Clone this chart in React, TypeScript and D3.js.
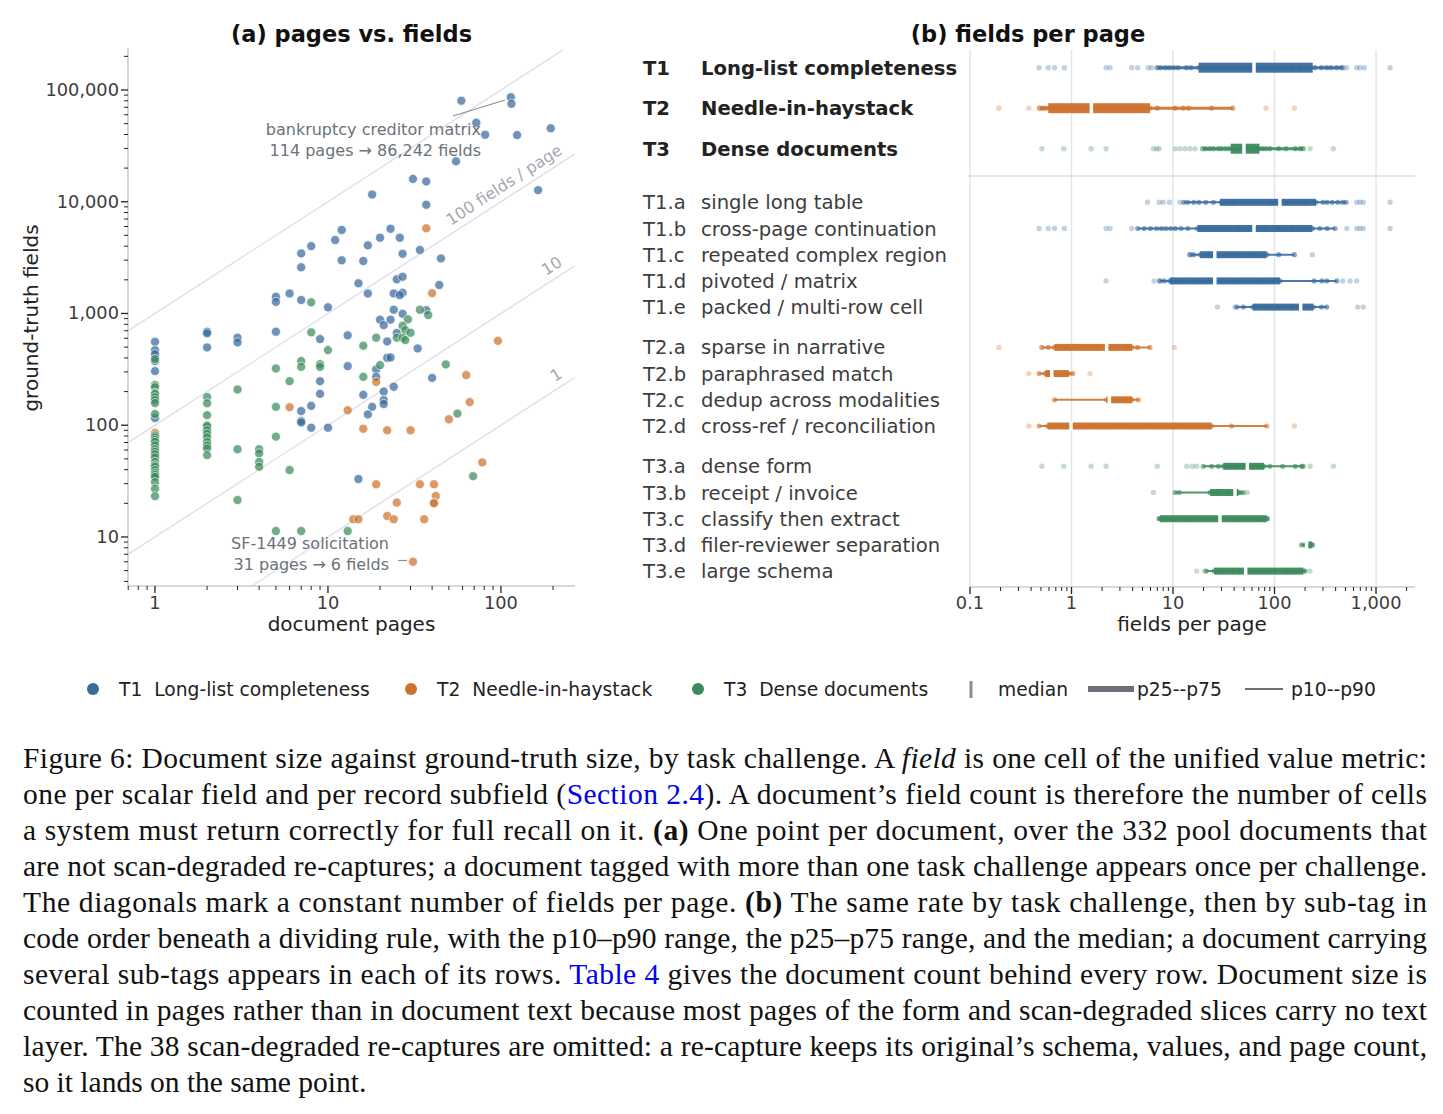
import React from 'react';
import * as d3 from 'd3';

// ---------- data: panel (a) [pages, fields] ----------
const t1Points: [number, number][] = [
  [59, 80200], [114, 86242], [115, 75300], [72, 50900], [81, 39800], [124, 39500], [194, 45400],
  [55, 23000], [31, 16000], [37, 15200], [18, 11600], [164, 12700], [37, 9400], [12, 5590],
  [23, 5730], [20, 4760], [26, 4760], [11, 4540],
  [7, 3450], [8, 4010], [17, 4070], [7, 2590], [12, 2990], [16, 2950], [27, 3420], [34, 3700],
  [45, 3110], [15, 1860], [25, 2020], [27, 2130], [17, 1510], [24, 1510], [27, 1530], [26, 1460],
  [44, 1800], [5, 1410], [5, 1270], [6, 1510], [7, 1320], [10, 1135], [24, 1080], [27, 993],
  [37, 1070], [20, 880], [23, 880], [21, 787], [25, 668], [5, 687], [9, 590], [13, 637], [22, 562],
  [33, 487], [13, 338], [22, 401], [23, 404], [19, 316], [19, 271], [40, 265], [9, 248], [24, 221],
  [21, 200], [9, 191], [16, 187], [21, 168], [21, 155], [18, 146], [8, 149], [7, 134], [17, 125],
  [7, 109], [7, 106], [8, 95], [10, 95], [15, 33],
  [1, 558], [1, 470], [1, 433], [1, 375], [1, 305], [1, 116],
  [2, 687], [2, 664], [2, 497], [3, 607], [3, 551],
];
const t2Points: [number, number][] = [
  [37, 5780], [40, 1520], [96, 569], [63, 281], [19, 244], [66, 161], [6, 145], [13, 136],
  [50, 113], [16, 93], [22, 90], [30, 90], [1, 85.5], [78, 46.5], [19, 29.6], [34, 29.6],
  [41, 29.6], [42, 23.3], [25, 20.3], [41, 20.3], [41, 20], [14, 14.4], [15, 14.4], [22, 15.4],
  [24, 14.4], [36, 14.4], [31, 6],
];
const t3Points: [number, number][] = [
  [8, 1260], [34, 1080], [38, 968], [29, 886], [27, 776], [28, 710], [30, 672], [25, 607],
  [27, 607], [28, 578], [8, 678], [19, 607], [16, 514], [10, 470], [7, 375], [7, 333], [9, 352],
  [9, 333], [5, 322], [20, 345], [16, 271], [48, 350], [6, 248], [5, 146], [56, 127], [4, 61],
  [4, 56], [4, 47], [4, 42.5], [5, 79], [6, 39.7], [3, 209], [3, 61], [3, 21.4], [5, 11.3],
  [7, 11.3], [13, 11.3], [69, 35],
  [1, 391], [1, 229], [1, 219], [1, 195], [1, 190], [1, 178], [1, 168], [1, 158], [1, 126],
  [1, 81], [1, 78], [1, 74], [1, 71], [1, 66], [1, 61], [1, 58], [1, 55], [1, 51.5], [1, 47],
  [1, 44], [1, 42.5], [1, 39.7], [1, 37.5], [1, 36], [1, 34.5], [1, 31], [1, 27], [1, 23.2],
  [2, 179], [2, 157], [2, 123], [2, 100], [2, 98], [2, 90], [2, 84], [2, 78], [2, 71], [2, 66],
  [2, 62], [2, 54],
];

const diagonalRates = [1000, 100, 10, 1];
const diagonalLabels = ['', '100 fields / page', '10', '1'];

// ---------- data: panel (b) ----------
const rowCodes = ['T1', 'T2', 'T3', 'T1.a', 'T1.b', 'T1.c', 'T1.d', 'T1.e', 'T2.a', 'T2.b', 'T2.c', 'T2.d', 'T3.a', 'T3.b', 'T3.c', 'T3.d', 'T3.e'];
const rowNames = [
  'Long-list completeness', 'Needle-in-haystack', 'Dense documents',
  'single long table', 'cross-page continuation', 'repeated complex region', 'pivoted / matrix', 'packed / multi-row cell',
  'sparse in narrative', 'paraphrased match', 'dedup across modalities', 'cross-ref / reconciliation',
  'dense form', 'receipt / invoice', 'classify then extract', 'filer-reviewer separation', 'large schema',
];
const rowSeries = [0, 1, 2, 0, 0, 0, 0, 0, 1, 1, 1, 1, 2, 2, 2, 2, 2];
// [p10, p25, median, p75, p90]
const rowStats: number[][] = [
  [7.0, 17.9, 62.8, 238, 470],
  [0.49, 0.59, 1.57, 5.93, 38.7],
  [19.6, 37, 50, 71, 192],
  [12.8, 29, 113, 256, 506],
  [4.49, 17.4, 62.8, 236, 394],
  [14.8, 18.5, 25.8, 83.7, 157],
  [7.45, 9.3, 25.8, 113, 410],
  [42.4, 61, 181, 241, 327],
  [0.51, 0.68, 2.22, 3.95, 5.93],
  [0.48, 0.55, 0.64, 0.94, 1.03],
  [0.68, 2.22, 2.36, 3.95, 4.55],
  [0.48, 0.58, 0.99, 24, 83.7],
  [19.9, 31.3, 54, 78.9, 192],
  [10.5, 23.2, 40.8, 44, 49.3],
  [7.3, 7.45, 29, 83.7, 85],
  [185, 200, 207, 233, 236],
  [21.3, 25.4, 52, 192, 200],
];
const rowDots: number[][] = [
  [0.48, 0.59, 0.68, 0.85, 2.19, 2.4, 3.92, 4.49, 5.71, 6.17, 7.0, 7.6, 8.4, 9.2, 10.1, 11.2, 13.5, 15, 18, 22, 26, 30, 38, 45, 55, 70, 85, 100, 120, 150, 180, 210, 250, 290, 327, 360, 410, 459, 477, 515, 645, 695, 767, 1374],
  [0.193, 0.38, 0.48, 0.49, 0.52, 0.55, 0.6, 0.65, 0.7, 0.8, 0.9, 1.0, 1.2, 1.4, 1.6, 1.8, 2.0, 2.4, 2.8, 3.2, 3.8, 4.5, 5.2, 5.9, 7, 10.5, 12.6, 14.2, 24, 38.7, 82.4, 157],
  [0.51, 0.84, 1.56, 2.19, 6.4, 6.9, 7.3, 10.5, 11.7, 13.1, 14.7, 16.5, 19.6, 21, 23, 25, 28, 30, 33, 36, 40, 44, 48, 52, 56, 60, 64, 70, 76, 82, 90, 110, 130, 160, 180, 192, 224, 380],
  [5.6, 7.3, 8.0, 9.2, 11.7, 12.8, 14, 16, 18, 21, 25, 30, 40, 55, 70, 90, 110, 130, 160, 200, 256, 300, 330, 370, 420, 470, 506, 645, 695, 750, 1374],
  [0.48, 0.59, 0.68, 0.85, 2.19, 2.4, 3.92, 4.49, 5.2, 6.0, 6.9, 7.7, 8.5, 9.5, 10.5, 12, 14, 17.4, 22, 30, 45, 62, 80, 110, 150, 200, 236, 280, 330, 394, 515, 645, 695, 750, 1374],
  [14.5, 14.8, 16, 18.5, 22, 26, 35, 45, 60, 84, 110, 157, 236],
  [2.19, 6.5, 7.3, 7.45, 8.2, 9.3, 12, 16, 22, 30, 45, 70, 100, 113, 245, 292, 327, 410, 470, 555, 645],
  [27.4, 40.8, 42.4, 49.3, 61, 80, 110, 150, 181, 241, 290, 327, 661, 750],
  [0.193, 0.51, 0.59, 0.68, 0.9, 1.3, 1.8, 2.22, 2.8, 3.5, 3.95, 4.49, 5.93, 10.3],
  [0.38, 0.48, 0.55, 0.64, 0.8, 0.94, 1.03, 1.52],
  [0.68, 2.22, 2.36, 3.95, 4.55],
  [0.38, 0.48, 0.58, 0.75, 0.99, 1.5, 3, 6, 12, 24, 37.8, 83.7, 157],
  [0.51, 0.84, 1.56, 2.19, 7.0, 13.7, 15.5, 17.1, 19.9, 24, 28, 31.3, 36, 42, 48, 54, 60, 70, 78.9, 90, 120, 160, 185, 192, 224, 380],
  [6.4, 10.5, 11.5, 23.2, 28, 35, 40.8, 44, 46, 49.3, 54],
  [7.3, 7.45, 10, 15, 22, 29, 40, 55, 70, 83.7, 85],
  [185, 200, 207, 233, 236],
  [17.1, 20.5, 21.3, 25.4, 30, 38, 45, 52, 65, 80, 100, 130, 160, 192, 200, 224],
];

const seriesNames = ['T1  Long-list completeness', 'T2  Needle-in-haystack', 'T3  Dense documents'];
const seriesColors = ['#386a9d', '#cc722d', '#3b8b5c'];

const captionLines: { parts: { t: string; s?: string }[]; justify: boolean }[] = [
  { parts: [{ t: 'Figure 6: Document size against ground-truth size, by task challenge. A ' }, { t: 'field', s: 'i' }, { t: ' is one cell of the unified value metric:' }], justify: true },
  { parts: [{ t: 'one per scalar field and per record subfield (' }, { t: 'Section 2.4', s: 'link' }, { t: '). A document\u2019s field count is therefore the number of cells' }], justify: true },
  { parts: [{ t: 'a system must return correctly for full recall on it. ' }, { t: '(a)', s: 'b' }, { t: ' One point per document, over the 332 pool documents that' }], justify: true },
  { parts: [{ t: 'are not scan-degraded re-captures; a document tagged with more than one task challenge appears once per challenge.' }], justify: true },
  { parts: [{ t: 'The diagonals mark a constant number of fields per page. ' }, { t: '(b)', s: 'b' }, { t: ' The same rate by task challenge, then by sub-tag in' }], justify: true },
  { parts: [{ t: 'code order beneath a dividing rule, with the p10\u2013p90 range, the p25\u2013p75 range, and the median; a document carrying' }], justify: true },
  { parts: [{ t: 'several sub-tags appears in each of its rows. ' }, { t: 'Table 4', s: 'link' }, { t: ' gives the document count behind every row. Document size is' }], justify: true },
  { parts: [{ t: 'counted in pages rather than in document text because most pages of the form and scan-degraded slices carry no text' }], justify: true },
  { parts: [{ t: 'layer. The 38 scan-degraded re-captures are omitted: a re-capture keeps its original\u2019s schema, values, and page count,' }], justify: true },
  { parts: [{ t: 'so it lands on the same point.' }], justify: false },
];

const FONT = "'DejaVu Sans', Verdana, sans-serif";
const SERIF = "'Liberation Serif', 'Times New Roman', serif";

function logTicks(lo: number, hi: number) {
  const major: number[] = [];
  const minor: number[] = [];
  const d0 = Math.floor(Math.log10(lo)) - 1;
  const d1 = Math.ceil(Math.log10(hi)) + 1;
  for (let d = d0; d <= d1; d++) {
    for (let k = 1; k <= 9; k++) {
      const v = k * Math.pow(10, d);
      if (v < lo * 0.999 || v > hi * 1.001) continue;
      if (k === 1) major.push(v); else minor.push(v);
    }
  }
  return { major, minor };
}

export default function App() {
  // Panel (a) scales
  const xL = d3.scaleLog().domain([0.698, 268]).range([128, 575]);
  const yL = d3.scaleLog().domain([3.64, 228000]).range([586, 50]);
  // Panel (b) scale
  const xR = d3.scaleLog().domain([0.1, 2421]).range([970, 1415]);

  const fmt = d3.format(',');
  const yT = logTicks(3.64, 228000);
  const xT = logTicks(0.698, 268);
  const xRT = logTicks(0.1, 2421);

  const rot = -Math.atan2(yL(1) - yL(10), xL(10) - xL(1)) * 180 / Math.PI;

  // row y positions
  const rowY: number[] = [];
  let y = 67.7;
  rowCodes.forEach((c, i) => {
    if (i === 0) { rowY.push(y); return; }
    const isMain = !c.includes('.');
    const prevMain = !rowCodes[i - 1].includes('.');
    if (isMain) y += 40.5;
    else if (prevMain) y = 202.3;
    else if (c[1] !== rowCodes[i - 1][1]) y += 40.3;
    else y += 26.2;
    rowY.push(y);
  });

  const diagLabelX = [0, 567, 567, 567];
  const annoSize = 16;

  return (
    <div style={{ position: 'absolute', left: 0, top: 0, background: '#fff' }}>
      <svg width={1443} height={1114} style={{ display: 'block' }}>
        <rect x={0} y={0} width={1443} height={1114} fill="#fff" />
        <defs>
          <clipPath id="clipA">
            <rect x={128} y={50} width={447} height={536} />
          </clipPath>
        </defs>

        {/* ---------------- Panel (a) ---------------- */}
        <text x={351.5} y={42} textAnchor="middle" fontFamily={FONT} fontWeight="bold" fontSize={22.5} fill="#111">(a) pages vs. fields</text>

        {/* diagonals */}
        <g clipPath="url(#clipA)">
          {diagonalRates.map((r) => (
            <line key={r} x1={xL(0.5)} y1={yL(0.5 * r)} x2={xL(400)} y2={yL(400 * r)} stroke="#dde0e7" strokeWidth={1.4} />
          ))}
        </g>
        {diagonalRates.map((r, i) => {
          if (!diagonalLabels[i]) return null;
          const xe = diagLabelX[i];
          const pages = xL.invert(xe);
          const ye = yL(pages * r);
          return (
            <text key={'dl' + r} x={xe} y={ye - 7} textAnchor="end" fontFamily={FONT} fontSize={annoSize} fill="#a4a8b0"
              transform={`rotate(${rot} ${xe} ${ye})`}>{diagonalLabels[i]}</text>
          );
        })}

        {/* points */}
        <g clipPath="url(#clipA)">
          {[t1Points, t2Points, t3Points].map((pts, si) =>
            pts.map((p, j) => (
              <circle key={si + '-' + j} cx={xL(p[0])} cy={yL(p[1])} r={4.5} fill={seriesColors[si]} fillOpacity={0.72} stroke="#fff" strokeWidth={0.6} />
            ))
          )}
        </g>

        {/* annotations */}
        <line x1={453} y1={116} x2={505} y2={100} stroke="#8a8f98" strokeWidth={1.2} />
        <text x={481} y={135} textAnchor="end" fontFamily={FONT} fontSize={annoSize} fill="#6c717a">bankruptcy creditor matrix</text>
        <text x={481} y={156} textAnchor="end" fontFamily={FONT} fontSize={annoSize} fill="#6c717a">114 pages → 86,242 fields</text>
        <line x1={398} y1={560.5} x2={407} y2={560.5} stroke="#8a8f98" strokeWidth={1.2} />
        <text x={389} y={548.5} textAnchor="end" fontFamily={FONT} fontSize={annoSize} fill="#6c717a">SF-1449 solicitation</text>
        <text x={389} y={569.5} textAnchor="end" fontFamily={FONT} fontSize={annoSize} fill="#6c717a">31 pages → 6 fields</text>

        {/* axes */}
        <line x1={128} y1={48} x2={128} y2={586} stroke="#c7cbd3" strokeWidth={1.6} />
        <line x1={128} y1={586} x2={575} y2={586} stroke="#c7cbd3" strokeWidth={1.6} />
        {yT.major.map((v) => (
          <g key={'ym' + v}>
            <line x1={121} x2={128} y1={yL(v)} y2={yL(v)} stroke="#222" strokeWidth={1.3} />
            <text x={119} y={yL(v) + 6} textAnchor="end" fontFamily={FONT} fontSize={17.8} fill="#3c3c3c">{fmt(v)}</text>
          </g>
        ))}
        {yT.minor.map((v) => (
          <line key={'yn' + v} x1={124} x2={128} y1={yL(v)} y2={yL(v)} stroke="#222" strokeWidth={1} />
        ))}
        {xT.major.map((v) => (
          <g key={'xm' + v}>
            <line x1={xL(v)} x2={xL(v)} y1={586} y2={593} stroke="#222" strokeWidth={1.3} />
            <text x={xL(v)} y={609} textAnchor="middle" fontFamily={FONT} fontSize={17.8} fill="#3c3c3c">{fmt(v)}</text>
          </g>
        ))}
        {xT.minor.map((v) => (
          <line key={'xn' + v} x1={xL(v)} x2={xL(v)} y1={586} y2={590} stroke="#222" strokeWidth={1} />
        ))}
        <text x={351.5} y={631} textAnchor="middle" fontFamily={FONT} fontSize={20} fill="#222">document pages</text>
        <text transform="translate(38 318) rotate(-90)" textAnchor="middle" fontFamily={FONT} fontSize={20} fill="#222">ground-truth fields</text>

        {/* ---------------- Panel (b) ---------------- */}
        <text x={1028} y={42} textAnchor="middle" fontFamily={FONT} fontWeight="bold" fontSize={22.5} fill="#111">(b) fields per page</text>
        {xRT.major.map((v) => (
          <line key={'g' + v} x1={xR(v)} x2={xR(v)} y1={50} y2={587} stroke="#e3e5eb" strokeWidth={1.5} />
        ))}
        <line x1={968} x2={1415} y1={176} y2={176} stroke="#d9dce3" strokeWidth={1.5} />

        {rowCodes.map((code, i) => {
          const yy = rowY[i];
          const isMain = !code.includes('.');
          const col = seriesColors[rowSeries[i]];
          const [p10, p25, med, p75, p90] = rowStats[i];
          const bh = isMain ? 10 : 7;
          const lw = isMain ? 3 : 2;
          const dots = rowDots[i];
          return (
            <g key={code}>
              <text x={643} y={yy + 7} fontFamily={FONT} fontSize={19.6} fontWeight={isMain ? 'bold' : 'normal'} fill={isMain ? '#222' : '#3d3d3d'}>{code}</text>
              <text x={701} y={yy + 7} fontFamily={FONT} fontSize={19.6} fontWeight={isMain ? 'bold' : 'normal'} fill={isMain ? '#222' : '#3d3d3d'}>{rowNames[i]}</text>
              {dots.filter((d) => d < p10 || d > p90).map((d, j) => (
                <circle key={'o' + j} cx={xR(d)} cy={yy} r={2.7} fill={col} fillOpacity={0.3} />
              ))}
              <line x1={xR(p10)} x2={xR(p90)} y1={yy} y2={yy} stroke={col} strokeWidth={lw} strokeOpacity={0.9} />
              {dots.filter((d) => d >= p10 && d <= p90).map((d, j) => (
                <circle key={'i' + j} cx={xR(d)} cy={yy} r={2.6} fill={col} fillOpacity={0.6} />
              ))}
              <rect x={xR(p25)} y={yy - bh / 2} width={xR(p75) - xR(p25)} height={bh} fill={col} fillOpacity={0.95} />
              <line x1={xR(med)} x2={xR(med)} y1={yy - bh / 2 - 1} y2={yy + bh / 2 + 1} stroke="#fff" strokeWidth={3.5} />
            </g>
          );
        })}

        <line x1={970} y1={587} x2={1415} y2={587} stroke="#c7cbd3" strokeWidth={1.6} />
        {xRT.major.map((v) => (
          <g key={'rm' + v}>
            <line x1={xR(v)} x2={xR(v)} y1={587} y2={594} stroke="#222" strokeWidth={1.3} />
            <text x={xR(v)} y={609} textAnchor="middle" fontFamily={FONT} fontSize={17.8} fill="#3c3c3c">{fmt(v)}</text>
          </g>
        ))}
        {xRT.minor.map((v) => (
          <line key={'rn' + v} x1={xR(v)} x2={xR(v)} y1={587} y2={591} stroke="#222" strokeWidth={1} />
        ))}
        <text x={1192} y={631} textAnchor="middle" fontFamily={FONT} fontSize={20} fill="#222">fields per page</text>

        {/* ---------------- Legend ---------------- */}
        {seriesNames.map((n, i) => {
          const lx = [93, 411, 698][i];
          return (
            <g key={n}>
              <circle cx={lx} cy={689} r={6} fill={seriesColors[i]} />
              <text x={lx + 26} y={695.5} fontFamily={FONT} fontSize={18.7} fill="#222" style={{ whiteSpace: 'pre' }}>{n}</text>
            </g>
          );
        })}
        <line x1={971} x2={971} y1={681} y2={698} stroke="#8a8d94" strokeWidth={3} />
        <text x={998} y={695.5} fontFamily={FONT} fontSize={18.7} fill="#222">median</text>
        <rect x={1088} y={686} width={46} height={6} fill="#6b6f78" />
        <text x={1137} y={695.5} fontFamily={FONT} fontSize={18.7} fill="#222">p25--p75</text>
        <line x1={1245} x2={1283} y1={689} y2={689} stroke="#6b6f78" strokeWidth={2} />
        <text x={1291} y={695.5} fontFamily={FONT} fontSize={18.7} fill="#222">p10--p90</text>

        {/* ---------------- Caption ---------------- */}
        {captionLines.map((ln, i) => (
          <text key={'c' + i} x={23} y={768 + i * 36} fontFamily={SERIF} fontSize={29.5} fill="#111"
            {...(ln.justify ? { textLength: 1404, lengthAdjust: 'spacing' } : {})} style={{ whiteSpace: 'pre' }}>
            {ln.parts.map((p, j) => (
              <tspan key={j} fontStyle={p.s === 'i' ? 'italic' : undefined} fontWeight={p.s === 'b' ? 'bold' : undefined} fill={p.s === 'link' ? '#0000ee' : undefined}>{p.t}</tspan>
            ))}
          </text>
        ))}
      </svg>
    </div>
  );
}
